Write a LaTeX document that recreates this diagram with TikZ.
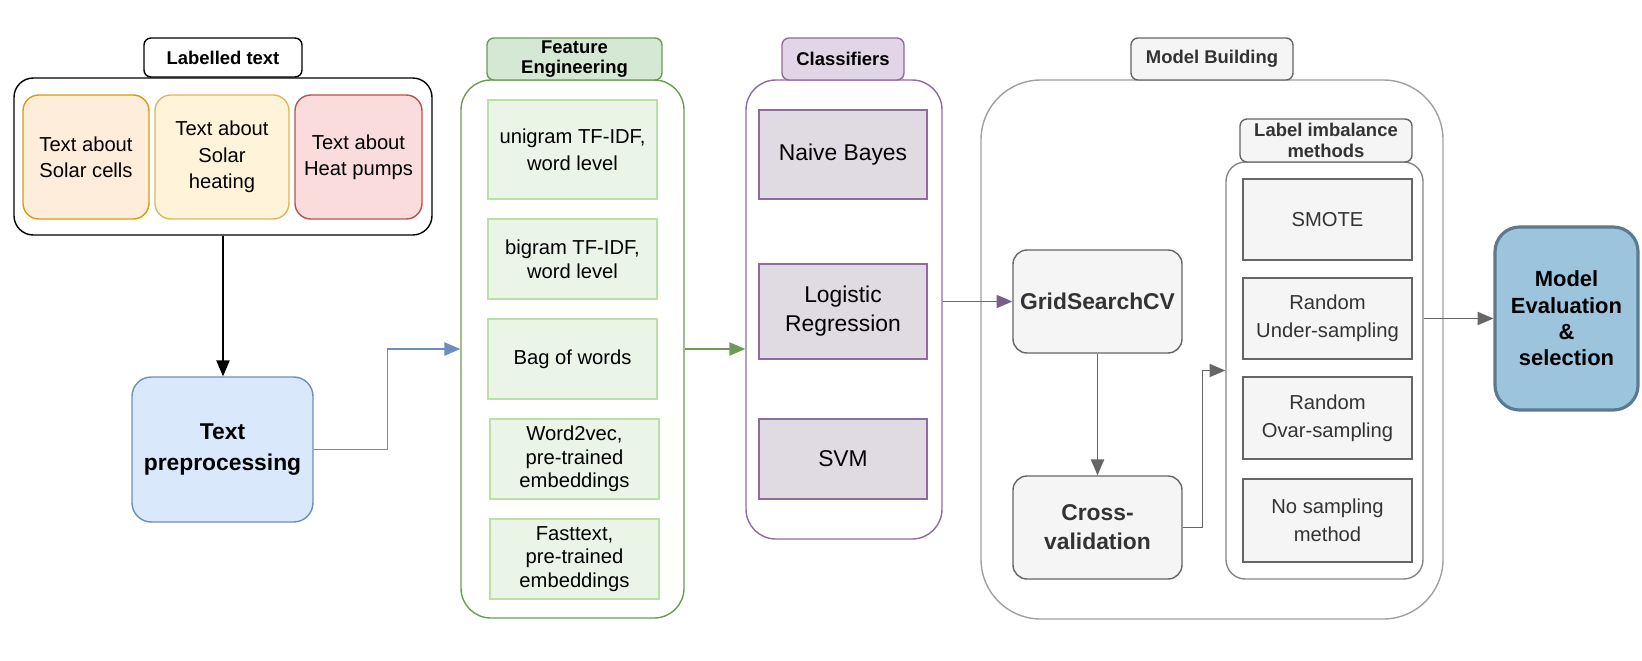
\documentclass[tikz,border=0pt]{standalone}
\usepackage{fontspec}
\setmainfont{Liberation Sans}
\usepackage{tikz}
\usetikzlibrary{arrows.meta,positioning,calc}

\definecolor{orgfill}{HTML}{FFEDDC}\definecolor{orgline}{HTML}{D99C0A}
\definecolor{yelfill}{HTML}{FFF4DA}\definecolor{yelline}{HTML}{D8B95E}
\definecolor{redfill}{HTML}{F9DCDB}\definecolor{redline}{HTML}{B85450}
\definecolor{prepfill}{HTML}{DAE8FC}\definecolor{prepline}{HTML}{6C8EBF}
\definecolor{feline}{HTML}{6D9B56}\definecolor{fehdr}{HTML}{D5E8D4}
\definecolor{fefill}{HTML}{EAF4E7}\definecolor{feboxline}{HTML}{B9E0A5}
\definecolor{clfline}{HTML}{8E6C9E}\definecolor{clfhdr}{HTML}{E1D5E7}
\definecolor{clffill}{HTML}{E0DAE3}\definecolor{clfarrow}{HTML}{76608A}
\definecolor{grayfill}{HTML}{F5F5F5}\definecolor{grayline}{HTML}{666666}
\definecolor{mbline}{HTML}{A0A0A0}\definecolor{liline}{HTML}{858585}
\definecolor{txtgray}{HTML}{333333}
\definecolor{evalfill}{HTML}{9DC4DD}\definecolor{evalline}{HTML}{5B7A8F}

\tikzset{
  % node spanning the corners (x1,y1) and (x2,y2)
  spot/.style args={#1/#2/#3/#4}{at={($(#1,#2)!0.5!(#3,#4)$)},
    minimum width={(#3-#1)*0.02cm}, minimum height={(#4-#2)*0.02cm}},
  base/.style={draw, inner sep=0pt, align=center, line width=0.8pt},
  hdr/.style={base, rounded corners=4pt, font=\fontsize{10.5}{11.8}\selectfont\bfseries},
  topic/.style={base, rounded corners=9pt, font=\fontsize{11.5}{15}\selectfont},
  febox/.style={base, fill=fefill, draw=feboxline, font=\fontsize{11.5}{13.5}\selectfont},
  clfbox/.style={base, fill=clffill, draw=clfline, font=\fontsize{13}{16.5}\selectfont},
  gbox/.style={base, fill=grayfill, draw=grayline, text=txtgray},
  libox/.style={gbox, font=\fontsize{11.5}{16}\selectfont},
  flow/.style={-{Triangle[length=9pt,width=7.5pt]}, line width=0.8pt}
}

\begin{document}
\begin{tikzpicture}[x=0.02cm, y=-0.02cm]
\useasboundingbox (0,0) rectangle (1642,660);

% labelled text
\node[base, rounded corners=11pt, spot=14/78/432/235] (lab) {};
\node[hdr, fill=white, spot=144/38/302/77] (labhdr) {Labelled text};
\node[topic, fill=orgfill, draw=orgline, spot=23/95/149/219] (cells) {Text about\\Solar cells};
\node[topic, fill=yelfill, draw=yelline, spot=155/95/289/219] (heating) {Text about\\Solar\\heating};
\node[topic, fill=redfill, draw=redline, spot=295/95/422/219] (pumps) {Text about\\Heat pumps};

\node[base, rounded corners=11pt, fill=prepfill, draw=prepline,
  font=\fontsize{13}{17.5}\selectfont\bfseries, spot=132/377/313/522] (prep) {Text\\preprocessing};

% feature engineering
\node[base, rounded corners=17pt, draw=feline, spot=461/80/684/618] (fe) {};
\node[hdr, fill=fehdr, draw=feline, spot=487/38/662/80] (fehdr) {Feature\\Engineering};
\node[febox, spot=488/100/657/199, font=\fontsize{11.5}{15.5}\selectfont] (uni) {unigram TF-IDF,\\word level};
\node[febox, spot=488/219/657/299] (bi) {bigram TF-IDF,\\word level};
\node[febox, spot=488/319/657/399] (bow) {Bag of words};
\node[febox, spot=490/419/659/499] (w2v) {Word2vec,\\pre-trained\\embeddings};
\node[febox, spot=490/519/659/599] (ft) {Fasttext,\\pre-trained\\embeddings};

% classifiers
\node[base, rounded corners=17pt, draw=clfline, spot=746/80/942/539] (clf) {};
\node[hdr, fill=clfhdr, draw=clfline, spot=782/38/904/80] (clfhdr) {Classifiers};
\node[clfbox, spot=759/110/927/199] (nb) {Naive Bayes};
\node[clfbox, spot=759/264/927/359] (lr) {Logistic\\Regression};
\node[clfbox, spot=759/419/927/499] (svm) {SVM};

% model building
\node[base, rounded corners=34pt, draw=mbline, spot=981/80/1443/619] (mb) {};
\node[hdr, fill=grayfill, draw=grayline, text=txtgray, spot=1131/38/1293/80] (mbhdr) {Model Building};
\node[gbox, rounded corners=8pt, font=\fontsize{13}{16.5}\selectfont\bfseries, spot=1013/250/1182/353] (grid) {GridSearchCV};
\node[gbox, rounded corners=8pt, font=\fontsize{13}{16.5}\selectfont\bfseries, spot=1013/476/1182/579] (cv) {Cross-\\validation};
\node[base, rounded corners=11pt, draw=liline, spot=1226/162/1423/579] (li) {};
\node[hdr, fill=grayfill, draw=grayline, text=txtgray, spot=1240/119/1412/162] (lihdr) {Label imbalance\\methods};
\node[libox, spot=1243/179/1412/260] (smote) {SMOTE};
\node[libox, spot=1243/278/1412/359] (under) {Random\\Under-sampling};
\node[libox, spot=1243/377/1412/459] (over) {Random\\Ovar-sampling};
\node[libox, spot=1243/479/1412/562] (nosamp) {No sampling\\method};

\node[base, line width=1.8pt, rounded corners=14pt, fill=evalfill, draw=evalline,
  font=\fontsize{12.5}{15}\selectfont\bfseries, spot=1495/227/1638/410] (eval) {Model\\Evaluation\\\&\\selection};

% connectors
\draw[flow] (lab.south) -- (lab.south |- prep.north);
\draw[flow, prepline] (prep.east) -- ++(74,0) |- (fe.west);
\draw[flow, feline] (fe.east) -- (fe.east -| clf.west);
\draw[flow, clfarrow] (clf.east |- grid.west) -- (grid.west);
\draw[flow, grayline] (grid) -- (cv);
\draw[flow, grayline] (cv.east) -- ++(20,0) |- (li.west);
\draw[flow, grayline] (li.east |- eval.west) -- (eval.west);
\end{tikzpicture}
\end{document}
